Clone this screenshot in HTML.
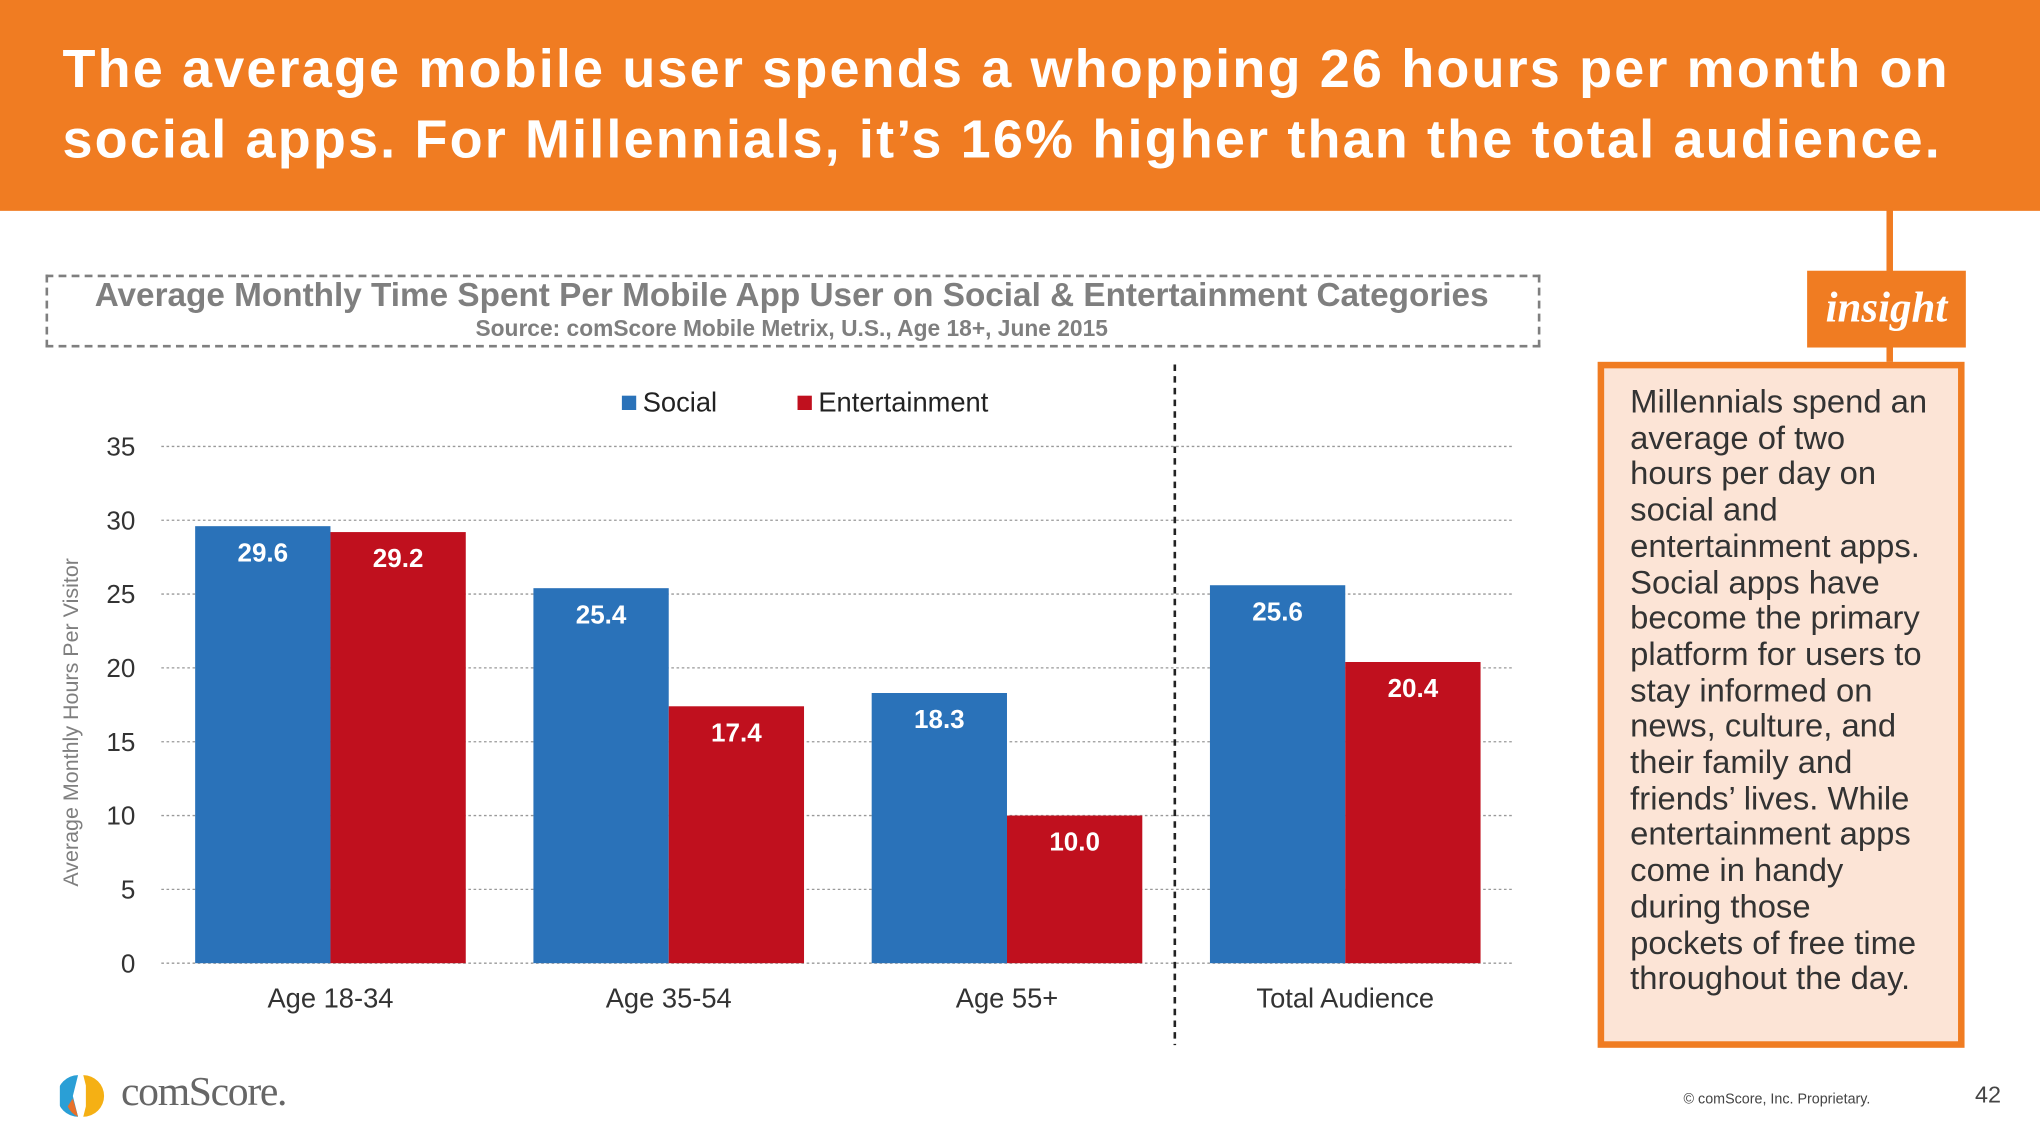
<!DOCTYPE html>
<html><head><meta charset="utf-8"><style>
html,body{margin:0;padding:0;background:#fff;overflow:hidden}
#page{position:absolute;left:0;top:0;width:1568px;height:882px;transform:scale(1.30102,1.30159);transform-origin:0 0;font-family:"Liberation Sans",Arial,sans-serif}
.abs{position:absolute}
</style></head><body>
<div id="page">
<div class="abs" style="left:0;top:0;width:1568px;height:162px;background:#F07C22"></div>
<div class="abs" style="left:48px;top:26px;width:1510px;color:#fff;font-weight:bold;font-size:41.5px;line-height:54px;letter-spacing:1.65px;white-space:nowrap">The average mobile user spends a whopping 26 hours per month on<br>social apps. For Millennials, it’s 16% higher than the total audience.</div>
<div class="abs" style="left:1450px;top:160px;width:5px;height:120px;background:#F07C22"></div>
<div class="abs" style="left:1389px;top:208px;width:122px;height:59px;background:#F07C22;color:#fff;font-family:'Liberation Serif',serif;font-style:italic;font-weight:bold;font-size:33px;line-height:59px;text-align:center">insight</div>
<div class="abs" style="left:1228px;top:278px;width:272px;height:517px;border:5px solid #F07C22;background:#FCE4D6"></div>
<div class="abs" style="left:1253px;top:296px;width:245px;color:#333;font-size:25.2px;line-height:27.7px">Millennials spend an<br>average of two<br>hours per day on<br>social and<br>entertainment apps.<br>Social apps have<br>become the primary<br>platform for users to<br>stay informed on<br>news, culture, and<br>their family and<br>friends’ lives. While<br>entertainment apps<br>come in handy<br>during those<br>pockets of free time<br>throughout the day.</div>
<div class="abs" style="left:35px;top:211px;width:1145px;height:52px;border:2px dashed #7f7f7f"></div>
<div class="abs" style="left:35px;top:213px;width:1147px;text-align:center;color:#7f7f7f;font-weight:bold;font-size:25.6px;line-height:29px">Average Monthly Time Spent Per Mobile App User on Social &amp; Entertainment Categories</div>
<div class="abs" style="left:35px;top:243px;width:1147px;text-align:center;color:#7f7f7f;font-weight:bold;font-size:17.5px;line-height:19px">Source: comScore Mobile Metrix, U.S., Age 18+, June 2015</div>
<svg class="abs" style="left:0;top:0" width="1568" height="882" id="chart"></svg>
<svg class="abs" style="left:46px;top:824px" width="36" height="36">
<path d="M14 2 A16 16 0 0 0 14 34 L10 18 Z" fill="#2a9fd6"/><path d="M10 20 L14 34 A16 16 0 0 1 6 26 Z" fill="#e8702a"/><path d="M18 2 A16 16 0 0 1 18 34 L20 26 L20 10 Z" fill="#f5b014"/></svg>
<div class="abs" style="left:93px;top:820px;color:#666;font-family:'Liberation Serif',serif;font-size:32px;letter-spacing:-1px">comScore.</div>
<div class="abs" style="left:1294px;top:839px;color:#444;font-size:11px">© comScore, Inc. Proprietary.</div>
<div class="abs" style="left:1518px;top:831px;color:#444;font-size:18px">42</div>
</div>
<script>
const categories=["Age 18-34","Age 35-54","Age 55+","Total Audience"];
const socialValues=[29.6,25.4,18.3,25.6];
const entValues=[29.2,17.4,10.0,20.4];
const yTicks=[0,5,10,15,20,25,30,35];
const NS="http://www.w3.org/2000/svg";
const svg=document.getElementById("chart");
const x0=124,x1=1164,yBase=740,yTop=343,yMax=35;
const y=v=>yBase-(v/yMax)*(yBase-yTop);
const band=(x1-x0)/categories.length;
const bw=104;
function mk(t,a){const e=document.createElementNS(NS,t);for(const k in a)e.setAttribute(k,a[k]);svg.appendChild(e);return e;}
yTicks.forEach(t=>{
 const g=mk("line",{x1:x0,x2:x1,y1:y(t),y2:y(t),stroke:"#999","stroke-width":1,"stroke-dasharray":"2,2"});
 
 
 const l=mk("text",{x:104,y:y(t)+7,"text-anchor":"end","font-size":20,fill:"#333"});l.textContent=t;
 
 
});
categories.forEach((c,i)=>{
 const cx=x0+band*(i+0.5);
 [[socialValues[i],"#2A72B9",cx-bw,"bar-social"],[entValues[i],"#C0101E",cx,"bar-entertainment"]].forEach(([v,col,bx,nm])=>{
  const r=mk("rect",{x:bx,y:y(v),width:bw,height:yBase-y(v),fill:col});
  
  
  const t=mk("text",{x:bx+bw/2,y:y(v)+27,"text-anchor":"middle","font-size":20,"font-weight":"bold",fill:"#fff"});t.textContent=v.toFixed(1);
  
  
 });
 const xl=mk("text",{x:cx,y:774,"text-anchor":"middle","font-size":21,fill:"#333"});xl.textContent=c;
 
 
});
const dv=mk("line",{x1:903,x2:903,y1:280,y2:803,stroke:"#222","stroke-width":2,"stroke-dasharray":"5,4"});


const yt=mk("text",{x:0,y:0,"text-anchor":"middle","font-size":16.5,fill:"#7f7f7f",transform:"translate(60,555) rotate(-90)"});yt.textContent="Average Monthly Hours Per Visitor";


[["Social","#2A72B9",478],["Entertainment","#C0101E",613]].forEach(([n,c,lx])=>{
 const s=mk("rect",{x:lx,y:304,width:11,height:11,fill:c});
 
 
 const t=mk("text",{x:lx+16,y:316,"font-size":21,fill:"#222"});t.textContent=n;
 
 
});
</script>
</body></html>
